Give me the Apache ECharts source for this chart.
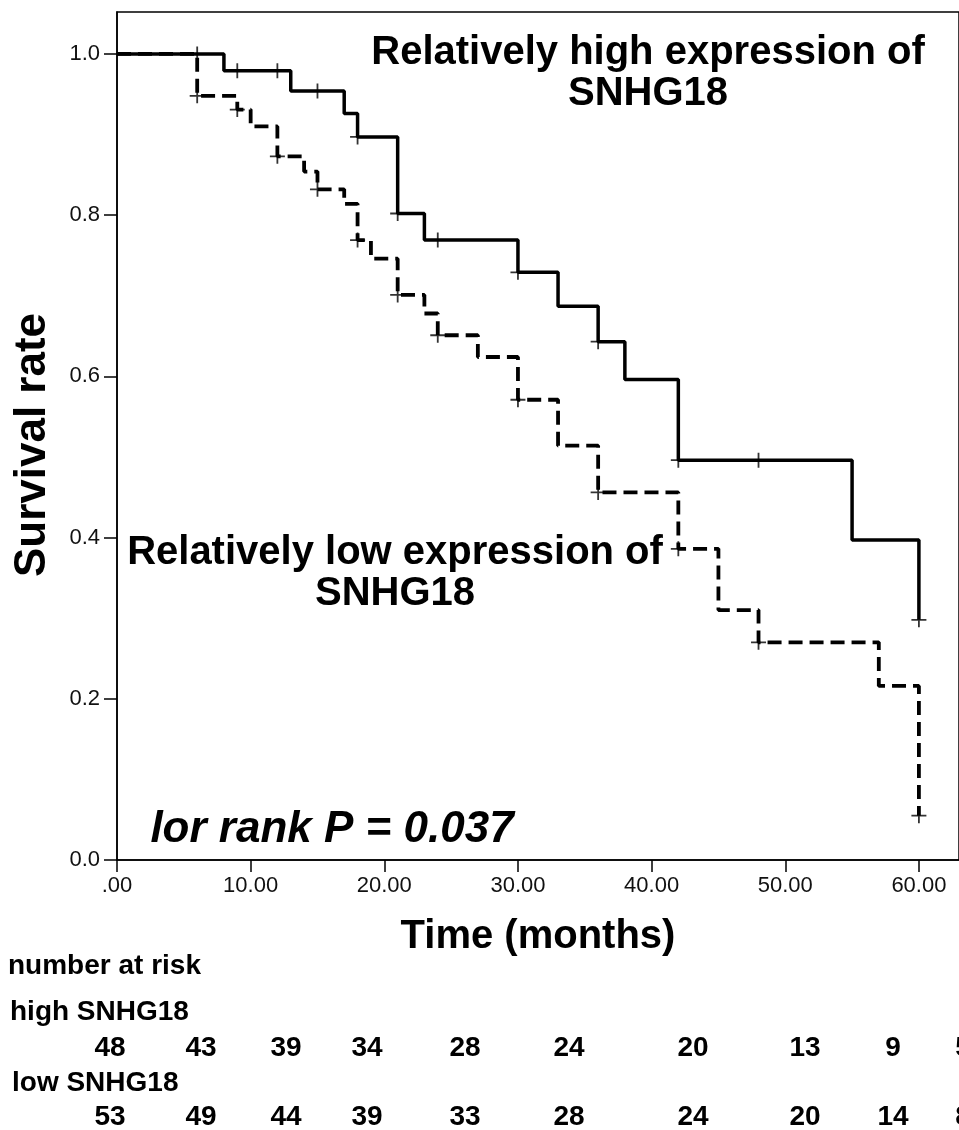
<!DOCTYPE html>
<html>
<head>
<meta charset="utf-8">
<script src="https://cdn.jsdelivr.net/npm/echarts@6/dist/echarts.min.js"></script>
<style>
html,body{margin:0;padding:0;background:#fff;}
#main{width:959px;height:1130px;}
</style>
</head>
<body>
<div id="main"></div>
<script>
// KM steps: [month, survival]
var highSteps=[[0,1],[8,0.979],[13,0.954],[17,0.926],[18,0.897],[21,0.802],[23,0.769],[30,0.729],[33,0.687],[36,0.643],[38,0.596],[42,0.496],[55,0.397],[60,0.298]];
var lowSteps=[[0,1],[6,0.948],[9,0.931],[10,0.910],[12,0.873],[14,0.854],[15,0.832],[17,0.814],[18,0.769],[19,0.746],[21,0.701],[23,0.678],[24,0.651],[27,0.624],[30,0.571],[33,0.514],[36,0.456],[42,0.386],[45,0.310],[48,0.270],[57,0.216],[60,0.055]];
// censored
var highCensor=[[6,1],[9,0.979],[12,0.979],[15,0.954],[18,0.897],[21,0.802],[24,0.769],[30,0.729],[36,0.643],[42,0.496],[48,0.496],[60,0.298]];
var lowCensor=[[6,0.948],[9,0.931],[12,0.873],[15,0.832],[18,0.769],[21,0.701],[24,0.651],[30,0.571],[36,0.456],[42,0.386],[48,0.270],[60,0.055]];
var xTicks=[0,10,20,30,40,50,60];
var yTicks=[0,0.2,0.4,0.6,0.8,1.0];
// number at risk
var riskHigh=[48,43,39,34,28,24,20,13,9,5];
var riskLow=[53,49,44,39,33,28,24,20,14,8];

var FONT="'Liberation Sans', Arial, sans-serif";
var riskX=[110,201,286,367,465,569,693,805,893,963];
var plus='path://M5,0L5,10M0,5L10,5';

var myChart=echarts.init(document.getElementById('main'));

var g=[];
g.push({type:'text',style:{text:'Relatively high expression of\nSNHG18',x:648,y:73,align:'center',verticalAlign:'middle',lineHeight:41,font:'bold 40px '+FONT,fill:'#000'}});
g.push({type:'text',style:{text:'Relatively low expression of\nSNHG18',x:395,y:573,align:'center',verticalAlign:'middle',lineHeight:41,font:'bold 40px '+FONT,fill:'#000'}});
g.push({type:'text',style:{text:'lor rank P = 0.037',x:332,y:830,align:'center',verticalAlign:'middle',font:'italic bold 44px '+FONT,fill:'#000'}});
g.push({type:'text',style:{text:'number at risk',x:8,y:966,align:'left',verticalAlign:'middle',font:'bold 28px '+FONT,fill:'#000'}});
g.push({type:'text',style:{text:'high SNHG18',x:10,y:1012,align:'left',verticalAlign:'middle',font:'bold 28px '+FONT,fill:'#000'}});
g.push({type:'text',style:{text:'low SNHG18',x:12,y:1083,align:'left',verticalAlign:'middle',font:'bold 28px '+FONT,fill:'#000'}});
for(var i=0;i<riskHigh.length;i++){
	g.push({type:'text',style:{text:String(riskHigh[i]),x:riskX[i],y:1048,align:'center',verticalAlign:'middle',font:'bold 28px '+FONT,fill:'#000'}});
	g.push({type:'text',style:{text:String(riskLow[i]),x:riskX[i],y:1117,align:'center',verticalAlign:'middle',font:'bold 28px '+FONT,fill:'#000'}});
}

option={
	animation:false,
	backgroundColor:'#fff',
	grid:{left:117,top:12,width:844,height:848,show:true,borderColor:'#000',borderWidth:1.5},
	xAxis:{
		type:'value',min:0,max:63,interval:10,
		name:'Time (months)',nameLocation:'middle',nameGap:57,
		nameTextStyle:{fontSize:40,fontWeight:'bold',color:'#000',fontFamily:FONT},
		axisLine:{lineStyle:{color:'#000',width:1.5}},
		axisTick:{customValues:xTicks,length:12,lineStyle:{color:'#000',width:1.5}},
		axisLabel:{customValues:xTicks,margin:15,fontSize:22,color:'#111',fontFamily:FONT,
			formatter:function(v){return v===0?'.00':v.toFixed(2);}},
		splitLine:{show:false}
	},
	yAxis:{
		type:'value',min:0,max:1.052,interval:0.2,
		name:'Survival rate',nameLocation:'middle',nameGap:62,
		nameTextStyle:{fontSize:44,fontWeight:'bold',color:'#000',fontFamily:FONT,padding:[0,18,0,0]},
		axisLine:{show:true,lineStyle:{color:'#000',width:1.5}},
		axisTick:{show:true,customValues:yTicks,length:13,lineStyle:{color:'#000',width:1.5}},
		axisLabel:{customValues:yTicks,margin:17,fontSize:22,color:'#111',fontFamily:FONT,
			formatter:function(v){return v.toFixed(1);}},
		splitLine:{show:false}
	},
	graphic:g,
	series:[
		{name:'high',type:'line',step:'end',data:highSteps,symbol:'none',
			lineStyle:{color:'#000',width:3.5}},
		{name:'low',type:'line',step:'end',data:lowSteps,symbol:'none',
			lineStyle:{color:'#000',width:3.8,type:[14,7]}},
		{name:'highC',type:'scatter',data:highCensor,symbol:plus,symbolSize:15,
			itemStyle:{color:'none',borderColor:'#000',borderWidth:1.8}},
		{name:'lowC',type:'scatter',data:lowCensor,symbol:plus,symbolSize:15,
			itemStyle:{color:'none',borderColor:'#000',borderWidth:1.8}}
	]
};
myChart.setOption(option);
</script>
</body>
</html>
